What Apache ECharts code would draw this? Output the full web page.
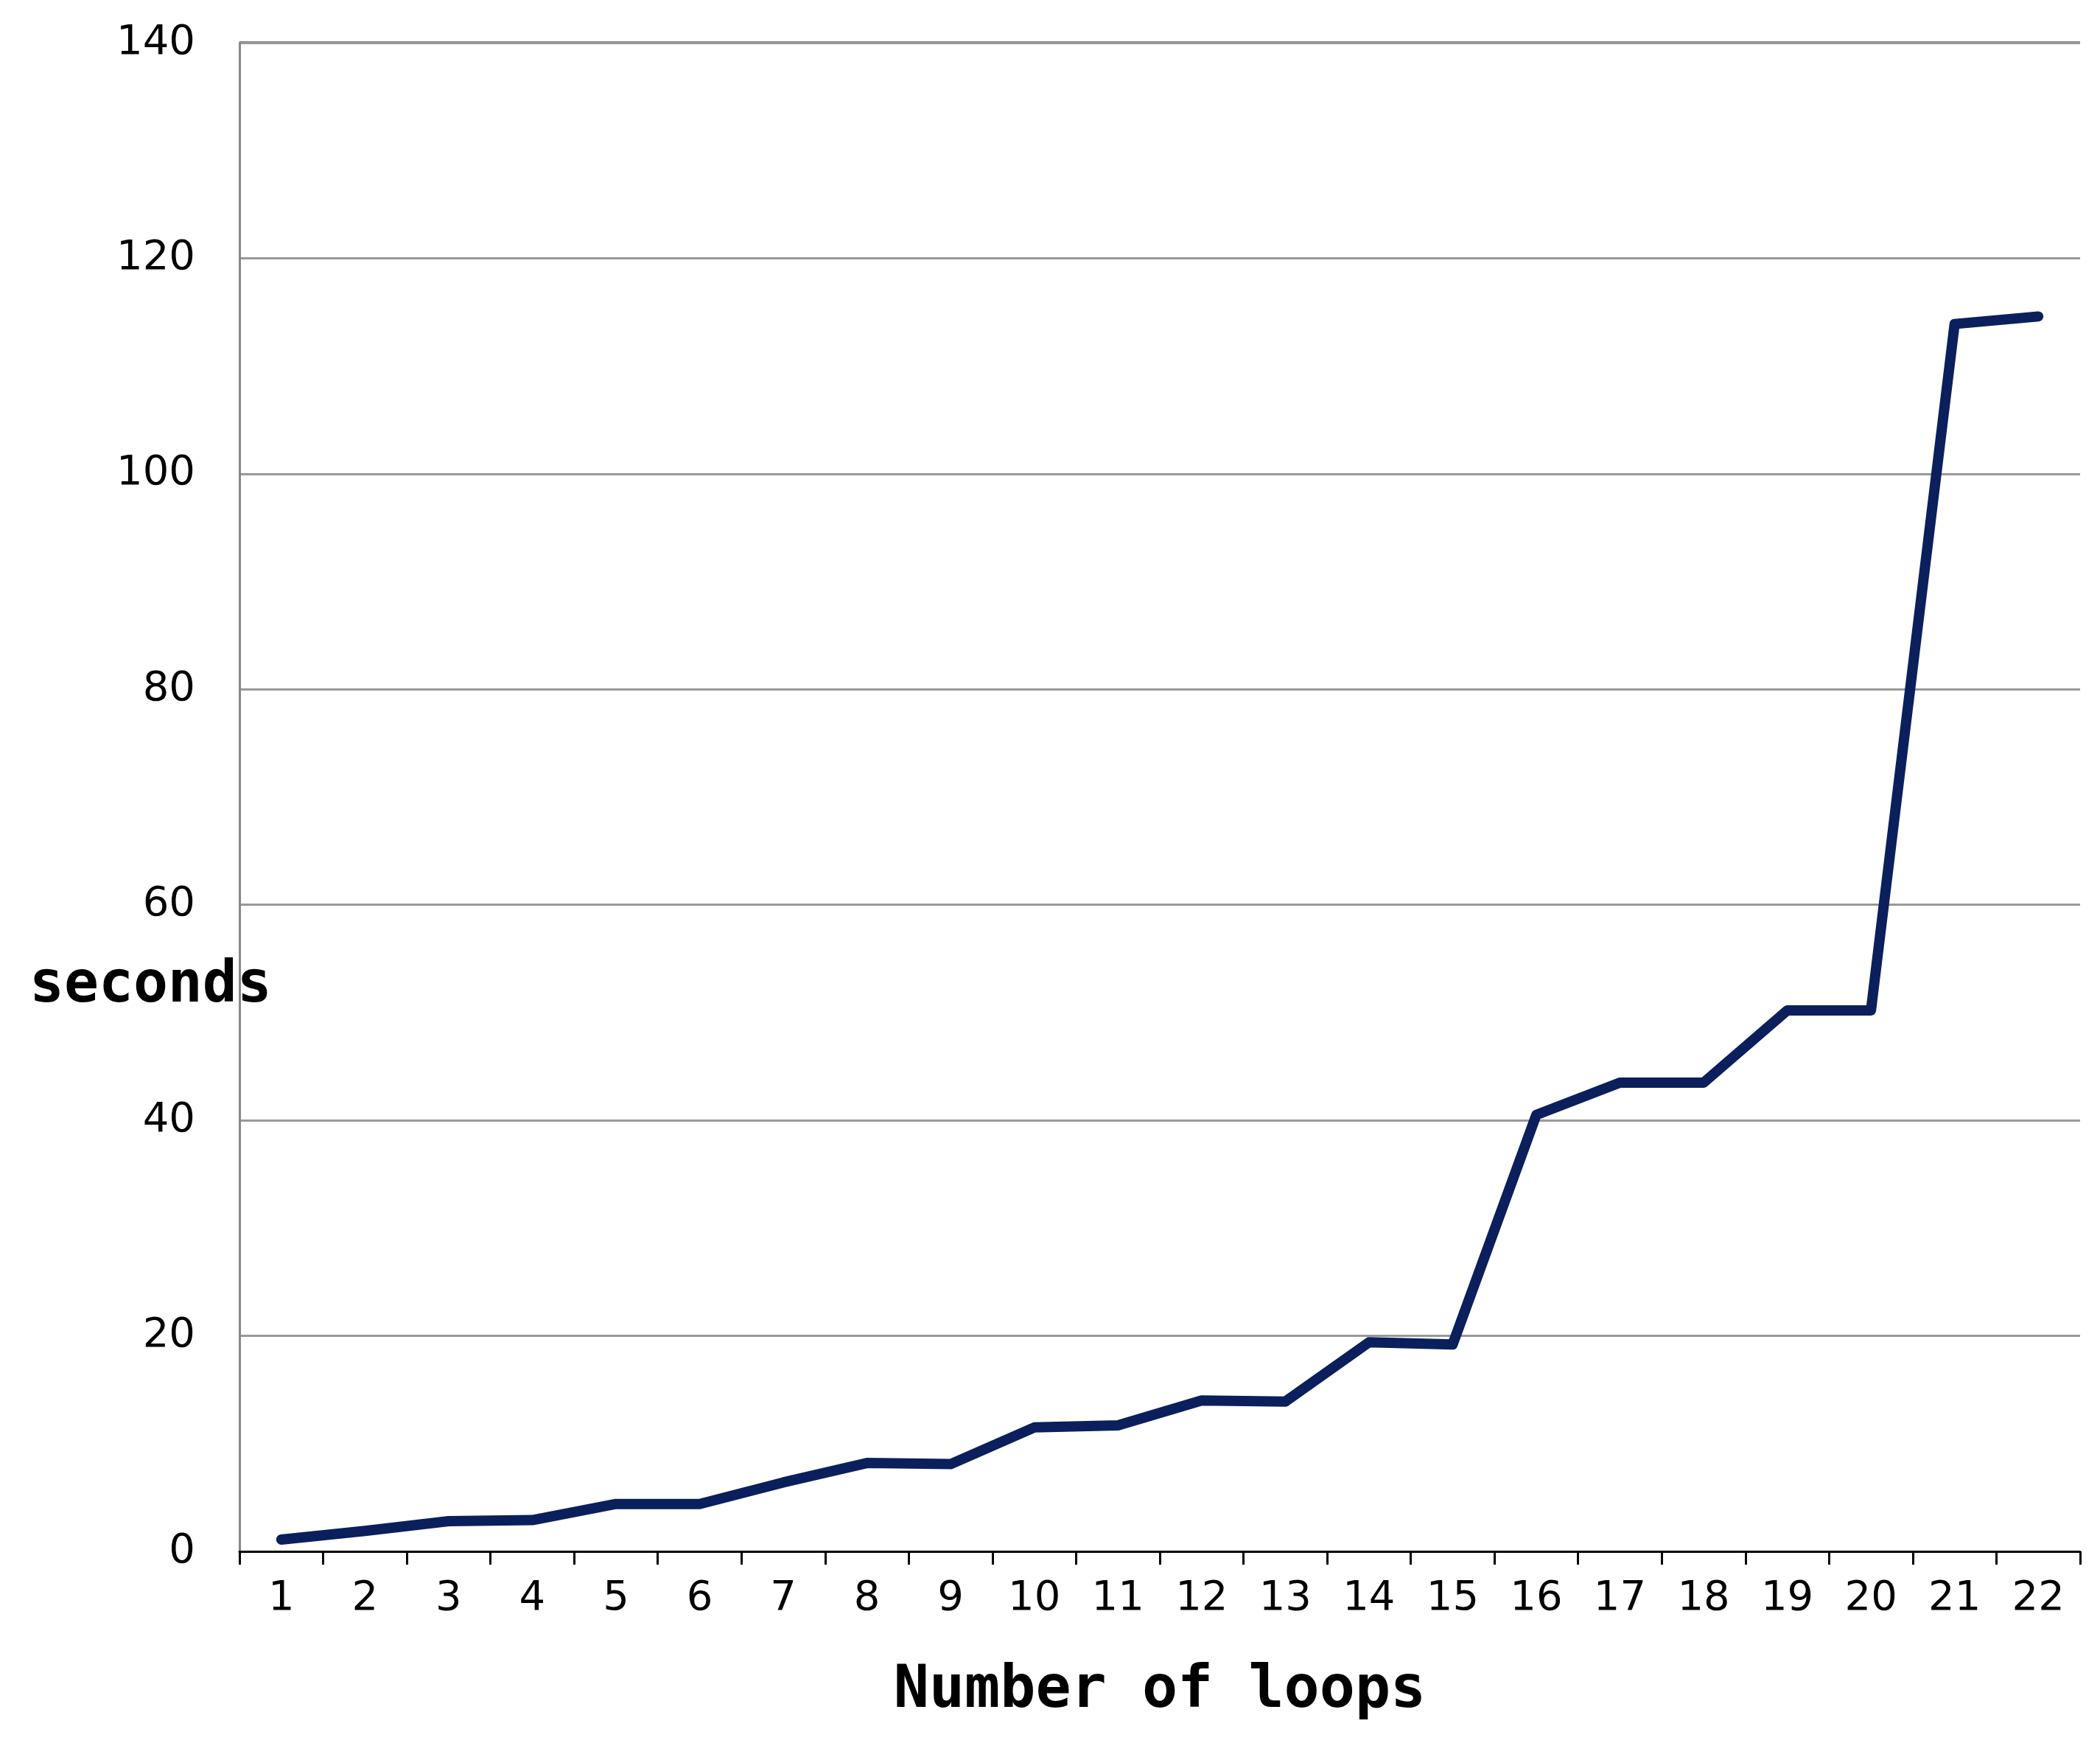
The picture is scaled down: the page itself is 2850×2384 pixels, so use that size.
<!DOCTYPE html>
<html><head><meta charset="utf-8">
<script src="https://cdn.jsdelivr.net/npm/echarts@6/dist/echarts.min.js"></script>
<style>html,body{margin:0;background:#fff}#c{width:2850px;height:2384px}</style>
</head><body><div id="c"></div>
<script>
var loops = ['1','2','3','4','5','6','7','8','9','10','11','12','13','14','15','16','17','18','19','20','21','22'];
var seconds = [1.1, 1.9, 2.8, 2.9, 4.4, 4.4, 6.4, 8.2, 8.1, 11.5, 11.7, 14.0, 13.9, 19.4, 19.2, 40.5, 43.5, 43.5, 50.2, 50.2, 113.9, 114.6];

var chart = echarts.init(document.getElementById('c'));
chart.setOption({
  animation: false,
  grid: { left: 325, right: 27, top: 58, bottom: 279 },
  graphic: [
    { type: 'text', left: 40, top: 1300,
      style: { text: 'seconds', font: 'bold 78px "DejaVu Sans Mono"', fill: '#000' } },
    { type: 'rect', shape: { x: 325, y: 58, width: 2498, height: 0 },
      style: { stroke: '#000', lineWidth: 3 } }
  ],
  xAxis: {
    type: 'category', data: loops, boundaryGap: true,
    name: 'Number of loops', nameLocation: 'middle', nameGap: 150,
    nameTextStyle: { fontSize: 80, fontWeight: 'bold', fontFamily: 'DejaVu Sans Mono', color: '#000' },
    axisLine: { lineStyle: { color: '#000', width: 3 } },
    axisTick: { show: true, length: 18, lineStyle: { color: '#000', width: 3 } },
    axisLabel: { fontSize: 56, color: '#000', margin: 36, fontFamily: 'DejaVu Sans' }
  },
  yAxis: {
    type: 'value', min: 0, max: 140, interval: 20,
    axisLine: { show: true, lineStyle: { color: '#888', width: 3 } },
    axisTick: { show: false },
    splitLine: { lineStyle: { color: '#999', width: 3 } },
    axisLabel: { fontSize: 56, color: '#000', margin: 60, fontFamily: 'DejaVu Sans' }
  },
  series: [{
    type: 'line', data: seconds, symbol: 'none',
    lineStyle: { color: '#0b1f5c', width: 14, cap: 'round', join: 'round' }
  }]
});
</script></body></html>
